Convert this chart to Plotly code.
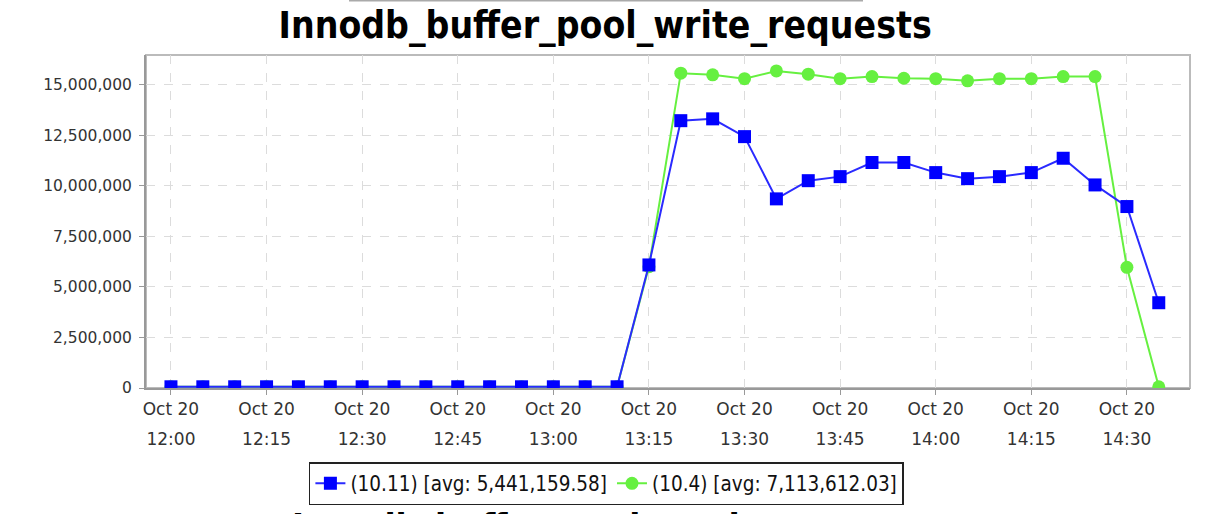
import plotly.graph_objects as go

times = ["2023-10-20 12:00", "2023-10-20 12:05", "2023-10-20 12:10", "2023-10-20 12:15",
         "2023-10-20 12:20", "2023-10-20 12:25", "2023-10-20 12:30", "2023-10-20 12:35",
         "2023-10-20 12:40", "2023-10-20 12:45", "2023-10-20 12:50", "2023-10-20 12:55",
         "2023-10-20 13:00", "2023-10-20 13:05", "2023-10-20 13:10", "2023-10-20 13:15",
         "2023-10-20 13:20", "2023-10-20 13:25", "2023-10-20 13:30", "2023-10-20 13:35",
         "2023-10-20 13:40", "2023-10-20 13:45", "2023-10-20 13:50", "2023-10-20 13:55",
         "2023-10-20 14:00", "2023-10-20 14:05", "2023-10-20 14:10", "2023-10-20 14:15",
         "2023-10-20 14:20", "2023-10-20 14:25", "2023-10-20 14:30", "2023-10-20 14:35"]

series_1011 = [60000, 60000, 60000, 60000, 60000, 60000, 60000, 60000,
               60000, 60000, 60000, 60000, 60000, 60000, 60000, 6090000,
               13230000, 13320000, 12440000, 9360000, 10260000, 10460000, 11160000, 11160000,
               10660000, 10360000, 10460000, 10660000, 11370000, 10050000, 8980000, 4220000]

series_104 = [60000, 60000, 60000, 60000, 60000, 60000, 60000, 60000,
              60000, 60000, 60000, 60000, 60000, 60000, 60000, 6000000,
              15580000, 15500000, 15310000, 15690000, 15530000, 15310000, 15410000, 15330000,
              15310000, 15200000, 15310000, 15310000, 15410000, 15410000, 5970000, 60000]

tick_vals = ["2023-10-20 12:00", "2023-10-20 12:15", "2023-10-20 12:30", "2023-10-20 12:45",
             "2023-10-20 13:00", "2023-10-20 13:15", "2023-10-20 13:30", "2023-10-20 13:45",
             "2023-10-20 14:00", "2023-10-20 14:15", "2023-10-20 14:30"]
tick_dates = ["Oct 20"] * 11
tick_times = ["12:00", "12:15", "12:30", "12:45", "13:00", "13:15",
              "13:30", "13:45", "14:00", "14:15", "14:30"]

y_ticks = [0, 2500000, 5000000, 7500000, 10000000, 12500000, 15000000]

name_1011 = "(10.11) [avg: 5,441,159.58]"
name_104 = "(10.4) [avg: 7,113,612.03]"

title_text = "Innodb_buffer_pool_write_requests"
next_title = "Innodb_buffer_pool_read_requests"

x_range = ["2023-10-20 11:56:05", "2023-10-20 14:39:54"]

BLUE = "#0000ff"
GREEN = "#66f040"
TICKFONT = dict(family="DejaVu Sans", size=17, color="#333333")
YTICKFONT = dict(family="DejaVu Sans", size=15.5, color="#333333")

fig = go.Figure()
fig.add_trace(go.Scatter(
    x=times, y=series_104, name=name_104, mode="lines+markers",
    line=dict(color=GREEN, width=2),
    marker=dict(symbol="circle", size=13, color=GREEN),
    legendrank=2,
))
fig.add_trace(go.Scatter(
    x=times, y=series_1011, name=name_1011, mode="lines+markers",
    line=dict(color="#2a2aff", width=2),
    marker=dict(symbol="square", size=13, color=BLUE),
    legendrank=1,
))
# invisible helper on the secondary axis so it renders
fig.add_trace(go.Scatter(x=times, y=series_1011, xaxis="x2", mode="none",
                         showlegend=False, hoverinfo="skip", opacity=0))

fig.update_layout(
    width=1230, height=514,
    margin=dict(l=146, r=40, t=55, b=126, autoexpand=False),
    paper_bgcolor="white", plot_bgcolor="white",
    title=dict(text=title_text, x=0.492, xanchor="center", y=1 - 25 / 514,
               yanchor="middle", yref="container",
               font=dict(family="DejaVu Sans Condensed, DejaVu Sans", size=37,
                         color="black", weight="bold")),
    xaxis=dict(type="date", range=x_range, tickmode="array", tickvals=tick_vals,
               ticktext=tick_dates, tickfont=TICKFONT,
               showgrid=True, gridcolor="#dcdcdc", griddash="dash", gridwidth=1,
               showline=True, linecolor="#999999", linewidth=2, mirror=False,
               ticks="outside", ticklen=5, tickcolor="#999999", zeroline=False),
    xaxis2=dict(type="date", range=x_range, overlaying="x", side="bottom",
                tickmode="array", tickvals=tick_vals, ticktext=tick_times,
                tickfont=TICKFONT, showgrid=False, showline=False, ticks="",
                ticklabelstandoff=39, zeroline=False),
    yaxis=dict(range=[0, 16480000], tickmode="array", tickvals=y_ticks,
               tickformat=",d", tickfont=YTICKFONT, ticklabelstandoff=4,
               showgrid=True, gridcolor="#dcdcdc", griddash="dash", gridwidth=1,
               showline=True, linecolor="#999999", linewidth=2,
               ticks="outside", ticklen=5, tickcolor="#999999", zeroline=False),
    legend=dict(orientation="h", x=0.441, xanchor="center",
                yref="container", y=1 - 462 / 514, yanchor="top",
                bordercolor="#222222", borderwidth=1.5, bgcolor="white",
                font=dict(family="DejaVu Sans Condensed, DejaVu Sans", size=20.5, color="#111111"),
                itemwidth=30, tracegroupgap=0),
    showlegend=True,
)

# plot frame (top/right)
fig.add_shape(type="rect", xref="paper", yref="paper", x0=0, x1=1, y0=0, y1=1,
              line=dict(color="#bbbbbb", width=2), layer="below")
# remnant of the previous chart's legend box at the very top
fig.add_shape(type="line", xref="paper", yref="paper",
              x0=(349 - 146) / 1044, x1=(863 - 146) / 1044,
              y0=(388 - 0.5) / 333, y1=(388 - 0.5) / 333,
              line=dict(color="#aaaaaa", width=2))
# top of the next chart's title, cut off at the bottom edge
fig.add_annotation(text=next_title, xref="paper", yref="paper",
                   x=(604 - 146) / 1044, y=(388 - 526) / 333, xanchor="center",
                   yanchor="middle", showarrow=False,
                   font=dict(family="DejaVu Sans Condensed, DejaVu Sans", size=36,
                             color="black", weight="bold"))

fig.write_html("out.html", config={"displayModeBar": False},
               post_script="document.body.style.margin='0';document.body.style.overflow='hidden';")
